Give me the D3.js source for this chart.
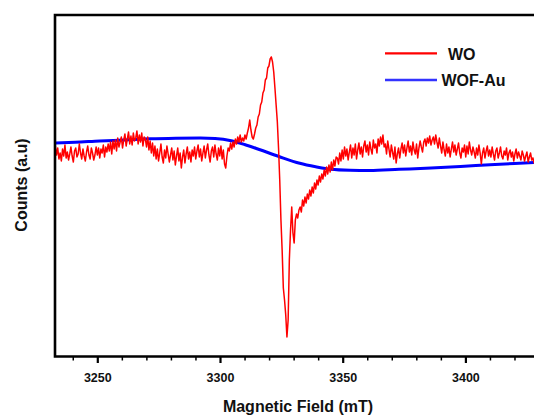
<!DOCTYPE html>
<html><head><meta charset="utf-8">
<script src="https://cdn.jsdelivr.net/npm/d3@7"></script>
<style>
html,body{margin:0;padding:0;background:#fff;}
svg{display:block;font-family:"Liberation Sans",Arial,sans-serif;}
</style></head>
<body>
<svg id="c" width="534" height="416"></svg>
<script>
// ---- data ----
const seriesNames = ["WO", "WOF-Au"];
const xTicks = [3250, 3300, 3350, 3400];
const xMinorTicks = [3240,3260,3270,3280,3290,3310,3320,3330,3340,3360,3370,3380,3390,3410,3420];
const xTitle = "Magnetic Field (mT)";
const yTitle = "Counts (a.u)";

// WO sweep: first field value and field step of the recorded spectrum
const woFieldStart = 3232.9;
const woFieldStep = 0.489;
const woCounts = [
 4,-5,2,-9,-3,-11,1,-6,5,-8,-2,-10,-4,3,-6,-12,-1,2,-7,-4,6,-3,-9,1,-6,-11,-2,4,-5,-9,2,-3,-10,-5,3,
 -5,2,-8,1,-3,5,-7,3,-2,6,-1,8,-4,9,1,10,-1,12,3,8,13,2,10,16,4,11,18,6,14,5,17,9,12,19,6,15,8,17,4,13,
 11,3,13,0,9,-3,7,-6,4,-9,1,-11,-3,6,-7,-13,0,-8,4,-4,-12,-5,2,-10,-1,-15,-6,2,-11,-3,-18,-7,0,-13,-4,3,-9,-2,-12,0,
 -6,3,-9,-1,5,-7,1,-11,-3,4,-8,0,6,-5,-12,-1,3,-7,5,-4,-10,2,-6,4,-9,0,-14,-18,-6,2,-1,7,1,8,3,11,6,13,8,15,
 8,12,9,15,11,17,22,30,20,13,11,16,22,25,33,36,45,48,57,60,70,72,82,84,91,93,88,78,62,45,28,2,-30,-70,-100,-138,-150,-165,-187,-170,
 -110,-80,-57,-83,-93,-70,-64,-68,-60,-57,-62,-50,-56,-47,-53,-44,-49,-40,-46,-37,-43,-33,-39,-30,-35,-26,-32,-24,-29,-20,-26,-17,-24,-15,-22,-12,-20,-10,-16,-7,
 -8,-14,-3,-11,0,-9,3,-6,1,-10,-2,5,-8,2,-5,6,-9,0,7,-4,3,-7,4,9,-2,5,-5,8,1,-4,10,2,6,-3,11,4,13,6,15,3,
 6,-4,9,1,-7,5,-2,-9,3,-13,-4,2,-8,1,7,-3,5,-6,2,9,-2,4,-5,8,0,-4,6,-8,2,9,3,-2,8,11,4,12,7,14,5,10,
 13,6,15,8,2,12,4,-3,8,0,-6,6,-3,3,-7,1,8,-2,5,-5,1,7,-3,-8,2,-2,5,-7,4,-4,8,0,-5,3,-2,-8,2,-5,5,-3,
 -14,-3,2,-8,-1,4,-6,0,-7,3,-4,-10,-1,2,-8,-3,3,-6,-9,-1,-5,2,-10,-3,0,-7,-2,-11,-4,1,-8,-2,-6,-10,-1,-5,-11,-6,-2,-12,-7,-3,-10,-8,-13,-10
];

const wofField  = [3233,3241,3251,3261,3271.5,3282,3292,3298,3304,3310,3316,3324,3332.5,3339,3345,3353,3361,3373,3386,3398,3410,3420,3429];
const wofCounts = [7,7.7,9,10,11.2,11.8,12,11.4,9.5,5.5,0.5,-6.5,-13.3,-16.8,-19.3,-20.3,-20.5,-19.3,-18,-16.5,-14.8,-13.5,-12.5];

// ---- layout ----
const svg = d3.select("#c");
const plotL = 55, plotT = 15, plotB = 356.5;
const x = d3.scaleLinear().domain([3250, 3300]).range([97.3, 220]);
const y = d3.scaleLinear().domain([-206.5, 135]).range([plotB, plotT]);

const woData = woCounts.map((v, i) => [woFieldStart + woFieldStep * i, v]);
const wofData = wofField.map((f, i) => [f, wofCounts[i]]);

// blue (WOF-Au)
svg.append("path").datum(wofData)
  .attr("d", d3.line().x(d => x(d[0])).y(d => y(d[1])).curve(d3.curveMonotoneX))
  .attr("fill", "none").attr("stroke", "#0000ff").attr("stroke-width", 3);

// red (WO)
svg.append("path").datum(woData)
  .attr("d", d3.line().x(d => x(d[0])).y(d => y(d[1])))
  .attr("fill", "none").attr("stroke", "#ff0000").attr("stroke-width", 1.5)
  .attr("stroke-linejoin", "round");

// frame
svg.append("path")
  .attr("d", `M560,${plotT}H${plotL}V${plotB}H560`)
  .attr("fill", "none").attr("stroke", "#000").attr("stroke-width", 2.6);

// x axis
const gx = svg.append("g").attr("transform", `translate(0,${plotB})`)
  .call(d3.axisBottom(x).tickValues(xTicks).tickSize(6.5).tickFormat(d3.format("d")));
gx.select(".domain").remove();
gx.selectAll(".tick line").attr("stroke", "#000").attr("stroke-width", 2.2);
gx.selectAll(".tick text").attr("y", 17).attr("dy", "0.71em")
  .attr("font-family", "'Liberation Sans', Arial, sans-serif")
  .attr("font-size", 12.5).attr("font-weight", "bold").attr("fill", "#111");

const gm = svg.append("g").attr("transform", `translate(0,${plotB})`)
  .call(d3.axisBottom(x).tickValues(xMinorTicks).tickSize(4).tickFormat(""));
gm.select(".domain").remove();
gm.selectAll(".tick line").attr("stroke", "#000").attr("stroke-width", 1.5);

// titles
svg.append("text").attr("x", 298).attr("y", 411.5).attr("text-anchor", "middle")
  .attr("font-size", 16).attr("font-weight", "bold").attr("fill", "#111").text(xTitle);
svg.append("text").attr("transform", "translate(26.5,185) rotate(-90)").attr("text-anchor", "middle")
  .attr("font-size", 16).attr("font-weight", "bold").attr("fill", "#111").text(yTitle);

// legend
const legend = [
  {name: seriesNames[0], color: "#ff0000", w: 2.2, ly: 53.3, tx: 448, ty: 59.5},
  {name: seriesNames[1], color: "#3333ff", w: 2.6, ly: 80, tx: 441.5, ty: 86}
];
const lg = svg.append("g");
legend.forEach(d => {
  lg.append("line").attr("x1", 385).attr("x2", 437).attr("y1", d.ly).attr("y2", d.ly)
    .attr("stroke", d.color).attr("stroke-width", d.w);
  lg.append("text").attr("x", d.tx).attr("y", d.ty).attr("font-size", 16)
    .attr("font-weight", "bold").attr("fill", "#111").text(d.name);
});
</script>
</body></html>
